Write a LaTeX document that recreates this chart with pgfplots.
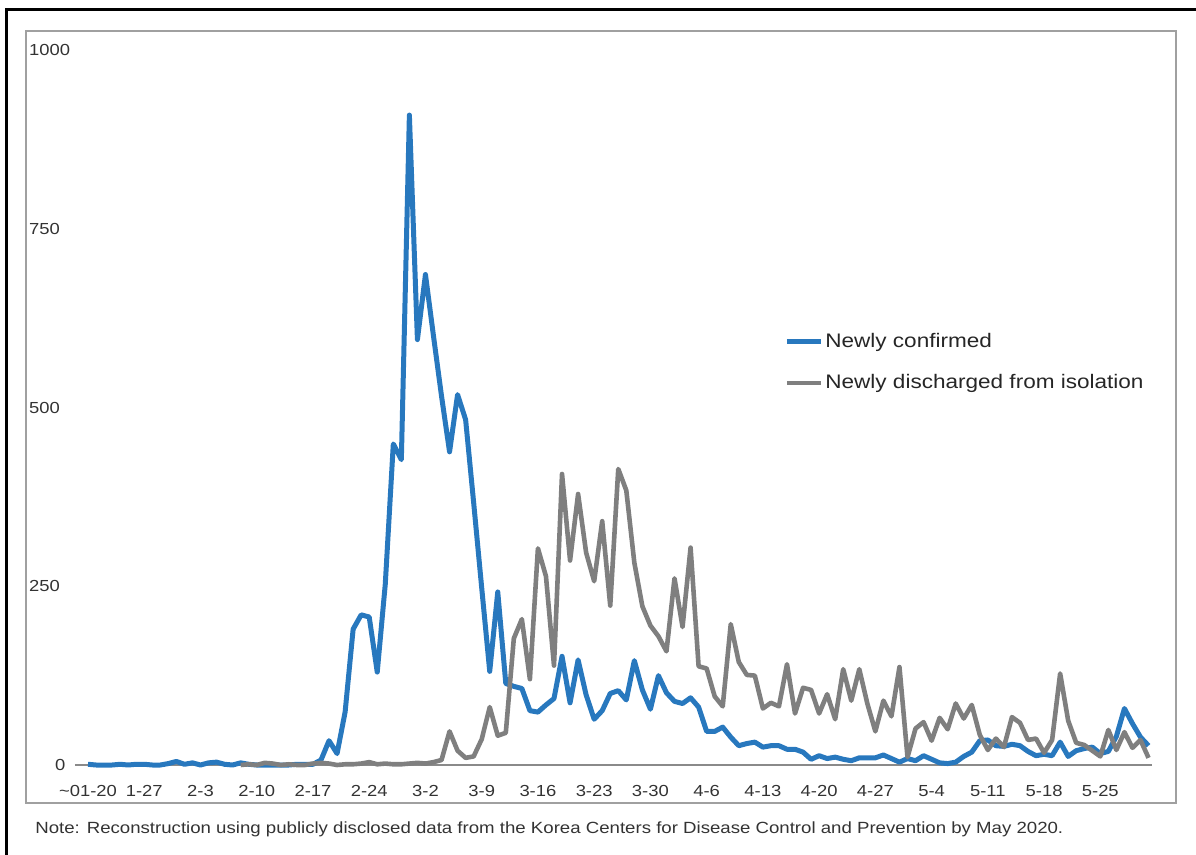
\documentclass[border=0pt]{standalone}
\usepackage{pgfplots}
\pgfplotsset{compat=1.18}
\usepackage{pgfplotstable}
\usepackage{fontspec}
\setmainfont{Liberation Sans}[FakeStretch=1.15]
\definecolor{cblue}{HTML}{2878BE}
\definecolor{cgray}{HTML}{7F7F7F}
\definecolor{framegray}{HTML}{A0A0A0}
\definecolor{axgray}{HTML}{8A8A8A}
\definecolor{txt}{HTML}{333333}

\pgfplotstableread{
d v
0 1
1 0
2 0
3 0
4 1
5 0
6 1
7 1
8 0
9 0
10 2
11 5
12 1
13 3
14 0
15 3
16 4
17 1
18 0
19 3
20 1
21 0
22 0
23 0
24 0
25 0
26 1
27 1
28 1
29 7
30 34
31 16
32 74
33 190
34 210
35 207
36 130
37 253
38 449
39 427
40 909
41 595
42 686
43 600
44 516
45 438
46 518
47 483
48 367
49 248
50 131
51 242
52 114
53 110
54 107
55 76
56 74
57 84
58 93
59 152
60 87
61 147
62 98
63 64
64 76
65 100
66 104
67 91
68 146
69 105
70 78
71 125
72 101
73 89
74 86
75 94
76 81
77 47
78 47
79 53
80 39
81 27
82 30
83 32
84 25
85 27
86 27
87 22
88 22
89 18
90 8
91 13
92 9
93 11
94 8
95 6
96 10
97 10
98 10
99 14
100 9
101 4
102 9
103 6
104 13
105 8
106 3
107 2
108 4
109 12
110 18
111 34
112 35
113 27
114 26
115 29
116 27
117 19
118 13
119 15
120 13
121 32
122 12
123 20
124 23
125 25
126 16
127 19
128 40
129 79
130 58
131 39
132 27
}\confirmed

\pgfplotstableread{
d v
19 0
20 1
21 0
22 3
23 2
24 0
25 1
26 0
27 0
28 2
29 3
30 2
31 0
32 1
33 1
34 2
35 4
36 1
37 2
38 1
39 1
40 2
41 3
42 2
43 4
44 7
45 47
46 20
47 10
48 12
49 36
50 81
51 41
52 45
53 177
54 204
55 120
56 303
57 264
58 139
59 407
60 286
61 379
62 297
63 257
64 341
65 223
66 414
67 384
68 283
69 222
70 195
71 180
72 159
73 261
74 193
75 304
76 138
77 135
78 96
79 82
80 197
81 144
82 126
83 125
84 79
85 87
86 82
87 141
88 72
89 108
90 105
91 72
92 99
93 64
94 134
95 90
96 134
97 86
98 47
99 90
100 68
101 137
102 11
103 51
104 60
105 34
106 66
107 50
108 86
109 65
110 84
111 42
112 21
113 37
114 25
115 67
116 59
117 35
118 37
119 17
120 35
121 128
122 62
123 31
124 28
125 20
126 12
127 49
128 21
129 46
130 24
131 35
132 10
}\discharged

\begin{document}
\begin{tikzpicture}
\begin{scope}[x=0.5pt,y=-0.5pt]
\path[use as bounding box] (0,0) rectangle (1196,855);
\draw[black, line width=1.5pt] (6.5,856) -- (6.5,9.5) -- (1197,9.5);
\draw[framegray, line width=1.4pt] (26,31) rectangle (1176,803);
\node[anchor=west, inner sep=0pt, text=txt, font=\fontsize{8.1}{9.5}\selectfont] at (35,829)
  {Note: Reconstruction using publicly disclosed data from the Korea Centers for Disease Control and Prevention by May 2020.};
\end{scope}
\begin{axis}[
  at={(37.5pt,-382.5pt)}, anchor=south west,
  scale only axis, width=538.25pt, height=357.5pt,
  xmin=-1.62, xmax=132.37, ymin=0, ymax=1000,
  clip=false,
  axis x line*=bottom, axis y line*=left,
  x axis line style={axgray, line width=1.2pt, -},
  y axis line style={draw=none},
  major tick length=0pt,
  tick style={draw=none},
  xtick={0,7,...,126},
  xticklabels={{\textasciitilde 01-20},1-27,2-3,2-10,2-17,2-24,3-2,3-9,3-16,3-23,3-30,4-6,4-13,4-20,4-27,5-4,5-11,5-18,5-25},
  xticklabel style={anchor=base, yshift=-15.5pt, font=\fontsize{8}{9}\selectfont, text=txt},
  ytick={0,250,500,750,1000},
  yticklabels={{\hspace{13pt}0},250,500,750,1000},
  yticklabel style={anchor=west, xshift=-26.5pt, font=\fontsize{8}{9}\selectfont, text=txt},
  /pgf/number format/assume math mode=true,
  legend style={at={(0.6586,0.6042)}, anchor=north west, draw=none, fill=none,
    font=\fontsize{9.8}{11}\selectfont, text=black!85,
    inner sep=0pt, row sep=12pt,
    nodes={inner sep=0pt},
    /tikz/every odd column/.style={column sep=1pt}},
  legend cell align=left,
  legend image code/.code={\draw[#1] (0pt,0pt) -- (17pt,0pt);},
]
\addplot[cblue, line width=2.5pt, line join=round] table[x=d,y=v] {\confirmed};
\addlegendentry{Newly confirmed}
\addplot[cgray, line width=2.3pt, line join=round] table[x=d,y=v] {\discharged};
\addlegendentry{Newly discharged from isolation}
\end{axis}
\end{tikzpicture}
\end{document}
